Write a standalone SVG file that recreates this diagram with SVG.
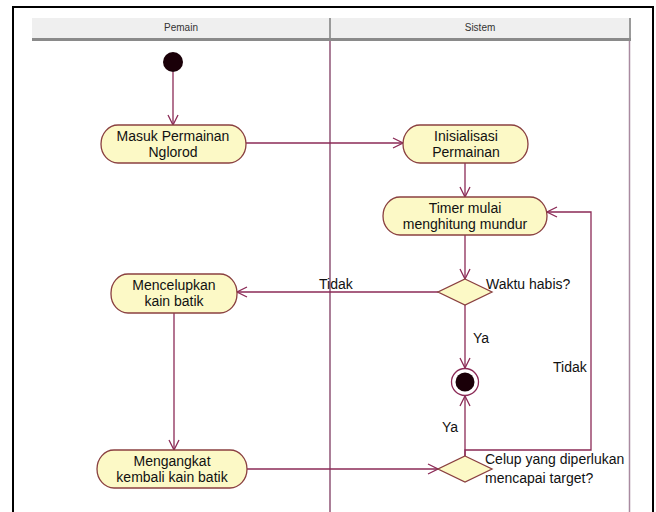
<svg xmlns="http://www.w3.org/2000/svg" width="656" height="512" viewBox="0 0 656 512">
  <style>
    .lbl { font-family: "Liberation Sans", Arial, sans-serif; font-size: 14px; fill: #111; }
    .hdr { font-family: "Liberation Sans", Arial, sans-serif; font-size: 10px; fill: #333; text-anchor: middle; }
    .act { fill: #fcf9c6; stroke: #8a4040; stroke-width: 1.3; }
    .txt { font-family: "Liberation Sans", Arial, sans-serif; font-size: 14px; fill: #111; text-anchor: middle; }
    .edge { fill: none; stroke: #8b2a56; stroke-width: 1.3; }
  </style>
  <defs>
    <marker id="open" viewBox="0 0 12 12" refX="11" refY="6" markerWidth="12" markerHeight="12" markerUnits="userSpaceOnUse" orient="auto">
      <path d="M1,1 L11,6 L1,11" fill="none" stroke="#8b2a56" stroke-width="1.3"/>
    </marker>
  </defs>

  <rect width="656" height="512" fill="#fff"/>
  <!-- outer frame -->
  <rect x="13" y="7" width="640" height="530" fill="none" stroke="#000" stroke-width="2"/>

  <!-- swimlane header -->
  <g id="lanes">
    <rect x="32" y="18" width="599" height="20" fill="#efefef"/>
    <rect x="32" y="38" width="599" height="3" fill="#8a8a8a"/>
    <line x1="330" y1="18" x2="330" y2="38" stroke="#9a9a9a" stroke-width="2"/>
    <line x1="630" y1="18" x2="630" y2="38" stroke="#9a9a9a" stroke-width="2"/>
    <text class="hdr" x="181" y="31">Pemain</text>
    <text class="hdr" x="480" y="31">Sistem</text>
    <line x1="330" y1="41" x2="330" y2="512" stroke="#7e3a60" stroke-width="1.3"/>
    <line x1="629.5" y1="41" x2="629.5" y2="512" stroke="#a98aa0" stroke-width="1.5"/>
  </g>

  <!-- connectors -->
  <g id="connectors">
    <line class="edge" x1="173" y1="72" x2="173" y2="125" marker-end="url(#open)"/>
    <line class="edge" x1="246" y1="143" x2="403" y2="143" marker-end="url(#open)"/>
    <line class="edge" x1="465" y1="163" x2="465" y2="197" marker-end="url(#open)"/>
    <line class="edge" x1="465" y1="235" x2="465" y2="279" marker-end="url(#open)"/>
    <line class="edge" x1="438" y1="292" x2="237" y2="292" marker-end="url(#open)"/>
    <line class="edge" x1="465" y1="305" x2="465" y2="368" marker-end="url(#open)"/>
    <line class="edge" x1="174" y1="313" x2="174" y2="450" marker-end="url(#open)"/>
    <line class="edge" x1="247" y1="469" x2="438" y2="469" marker-end="url(#open)"/>
    <line class="edge" x1="465" y1="456" x2="465" y2="396" marker-end="url(#open)"/>
    <path class="edge" d="M465,456 L465,450 L591,450 L591,212 L547,212" marker-end="url(#open)"/>
    <text class="lbl" x="319" y="289">Tidak</text>
    <text class="lbl" x="473" y="343">Ya</text>
    <text class="lbl" x="442" y="432">Ya</text>
    <text class="lbl" x="553" y="372">Tidak</text>
  </g>

  <g id="start">
    <circle cx="173" cy="62" r="10" fill="#1a0008"/>
  </g>

  <g id="masuk">
    <rect class="act" x="101" y="125" width="145" height="38" rx="17" ry="19"/>
    <text class="txt" x="173" y="141">Masuk Permainan</text>
    <text class="txt" x="173" y="157">Nglorod</text>
  </g>

  <g id="inisialisasi">
    <rect class="act" x="403" y="125" width="125" height="38" rx="17" ry="19"/>
    <text class="txt" x="466" y="141">Inisialisasi</text>
    <text class="txt" x="466" y="157">Permainan</text>
  </g>

  <g id="timer">
    <rect class="act" x="383" y="197" width="164" height="38" rx="17" ry="19"/>
    <text class="txt" x="465" y="213">Timer mulai</text>
    <text class="txt" x="465" y="229">menghitung mundur</text>
  </g>

  <g id="waktu">
    <polygon class="act" points="465,279 492,292 465,305 438,292"/>
    <text class="lbl" x="486" y="289">Waktu habis?</text>
  </g>

  <g id="mencelupkan">
    <rect class="act" x="111" y="274" width="126" height="39" rx="17" ry="19"/>
    <text class="txt" x="174" y="290">Mencelupkan</text>
    <text class="txt" x="174" y="306">kain batik</text>
  </g>

  <g id="final">
    <circle cx="465" cy="382" r="13.5" fill="#fff" stroke="#8b2a56" stroke-width="1.3"/>
    <circle cx="465" cy="382" r="9.5" fill="#1a0008"/>
  </g>

  <g id="mengangkat">
    <rect class="act" x="97" y="450" width="150" height="38" rx="17" ry="19"/>
    <text class="txt" x="172" y="466">Mengangkat</text>
    <text class="txt" x="172" y="482">kembali kain batik</text>
  </g>

  <g id="celup">
    <polygon class="act" points="465,456 492,469 465,482 438,469"/>
    <text class="lbl" x="485" y="464">Celup yang diperlukan</text>
    <text class="lbl" x="485" y="483">mencapai target?</text>
  </g>
</svg>
